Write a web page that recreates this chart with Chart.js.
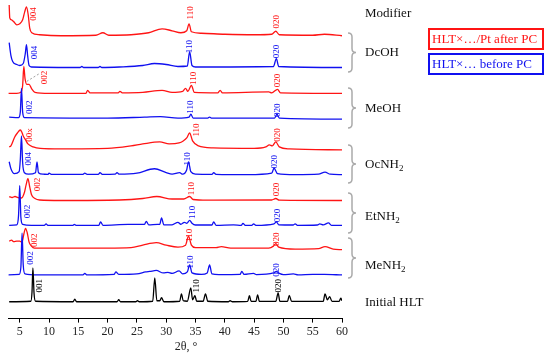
<!DOCTYPE html>
<html>
<head>
<meta charset="utf-8">
<script src="https://cdn.jsdelivr.net/npm/chart.js@4/dist/chart.umd.min.js"></script>
<style>
  html, body { margin: 0; padding: 0; background: #fff; }
  #wrap { width: 550px; height: 355px; position: relative; }
</style>
</head>
<body>
<div id="wrap"><canvas id="xrd"></canvas></div>
<script>
// XRD patterns, [2theta, intensity above own baseline]
const initialHLT = [[3.2,0],[6.9,0.5],[7.1,10],[7.25,34],[7.45,8],[7.7,0.5],[14.1,0],[14.4,2.5],[14.7,0],[21.6,0],[21.9,2],[22.2,0],[24.8,0],[25.1,1],[25.4,0],[27.7,0.5],[28.05,24],[28.4,1],[28.9,1],[29.2,4],[29.6,0],[32.3,0.5],[32.6,8],[32.9,1],[33.6,0.5],[34.2,14],[34.5,2],[34.9,6],[35.2,0.5],[36.3,0.5],[36.7,8],[37.1,0.5],[40.6,0],[40.9,1],[41.3,0],[43.9,0.3],[44.2,6],[44.5,0.3],[45.3,0.3],[45.6,7],[45.9,0.3],[48.7,0.3],[49.1,9],[49.4,0.3],[50.7,0.3],[51.0,6.5],[51.4,0.3],[56.8,0.3],[57.1,8],[57.5,2],[57.9,5],[58.3,0.3],[59.5,0.3],[59.8,3.5],[60,1]];
const menh2Before = [[3.1,0],[4.9,0.5],[5.2,8],[5.4,42],[5.6,10],[5.9,1],[8,0],[15.8,0],[16.1,1.5],[16.5,0],[21.1,0.5],[21.4,3],[21.9,0.5],[25,1],[26.5,3],[27.2,3.5],[28.3,4.5],[29.5,2],[30.3,2.5],[31,1.5],[32.2,4],[32.8,1],[33.6,3],[34.0,10],[34.4,2],[36,0.5],[37.0,2],[37.4,10],[37.8,1],[39,0.3],[42.6,0.5],[42.9,3.5],[43.3,0.5],[44.9,1.5],[45.4,0.3],[48.3,2],[48.8,3.5],[49.3,1.5],[50,0.3],[51.7,1],[52.5,0],[55,0.5],[57,0.5],[60,0]];
const menh2After = [[3.2,7],[3.6,8],[4.0,6.5],[4.5,7],[5.0,7],[5.4,6],[5.7,14],[6.0,20],[6.3,15],[6.6,6],[7.0,2],[7.5,0],[10,0],[20,0],[24,0.5],[26,3],[28.3,5.5],[30,3],[32,1],[33.3,3],[33.8,12],[34.3,3],[35,0.5],[38.5,0.5],[39.4,1.5],[41,0],[47.5,0],[48.3,2],[48.7,4.5],[49.2,1],[52,-1],[56,-0.5],[57.1,1.5],[58.5,-1],[60,-1.5]];
const etnh2Before = [[3.2,0],[4.5,0.5],[4.8,10],[5.0,40],[5.2,8],[5.5,1],[7,0],[9.2,0],[9.5,1.5],[9.8,0],[14.1,0],[14.3,1],[14.6,0],[18.5,0],[18.8,3.5],[19.2,0],[23.5,1],[26.3,1],[26.6,4],[27,0.5],[28.5,1],[28.9,1],[29.2,7.5],[29.6,0.5],[31,0.5],[32.0,3],[32.5,1],[33.1,3],[33.5,2],[34.0,5],[34.4,2],[35,0.3],[37.8,0.3],[38.1,3.5],[38.5,0],[41.5,0.5],[42.8,0],[43.1,2],[43.5,0],[44.6,0],[44.9,1.5],[45.3,0],[48.4,1.5],[48.8,3.5],[49.2,0.5],[51.7,0.3],[52,1.5],[52.4,0],[55.8,0.3],[56.2,1.5],[56.8,0.5],[57.7,2.5],[58.2,0],[60,0]];
const etnh2After = [[3.2,4],[3.7,3],[4.2,4],[4.7,3],[5.3,2.5],[5.8,8],[6.1,16],[6.4,22],[6.7,14],[7.0,6],[7.6,2],[8.4,0.5],[12,0],[22,0.5],[26,2],[28.4,4],[31,1.5],[33,1.5],[34.0,4],[34.6,1],[37,0.3],[48.0,0.5],[48.7,2],[49.3,0.3],[60,0]];
const ocnh2Before = [[3.2,13],[3.5,6],[4.1,1],[4.9,3],[5.1,15],[5.3,39],[5.5,12],[5.8,2],[6.5,0.5],[7.7,2],[7.95,13],[8.2,2],[9,0.5],[9.8,0.3],[10,1.5],[10.4,0.3],[15.8,0.3],[16.1,1.5],[16.5,0.3],[18.4,0.3],[18.7,2],[19.1,0.3],[21.3,0.5],[21.6,2],[22,0.5],[25,1.5],[28,6],[30,2],[31,0.5],[32.3,2],[32.8,0.5],[33.5,5],[33.8,13],[34.2,3],[35,0.5],[37.8,0.3],[38.1,2],[38.5,0.3],[44,0],[48.0,1.5],[48.4,6.5],[49,1],[52,0],[56,0.5],[57.1,2.5],[58,0.5],[60,0]];
const ocnh2After = [[3.2,2],[3.5,3],[4.15,12],[4.6,16],[5.1,19],[5.35,17],[5.6,13],[6.0,9],[6.4,5],[7.3,2],[8.5,0.5],[12,0],[20,0.5],[24,3],[26,5],[28.9,7],[30.5,5],[32.2,6],[32.9,8],[33.5,11],[34.0,16],[34.5,8],[35.5,3],[38,1],[45,0.5],[47.0,2],[47.6,4],[48.1,3],[48.7,7],[49.3,2],[51,0],[60,-1]];
const meohBefore = [[3.2,1],[4.8,0.5],[5.1,6],[5.3,30],[5.5,6],[5.8,0.5],[20,0],[26.3,1],[29,1.5],[32,0],[33.9,1],[34.2,4],[34.6,0],[37.1,0],[37.4,1],[37.7,0],[48.5,0],[48.9,4],[49.3,0],[60,-1]];
const meohAfter = [[3.1,0],[4.5,0],[5.2,1],[5.5,8],[5.7,27],[5.9,15],[6.2,9],[6.6,9],[7.0,5],[7.6,1],[10,0],[16.3,0],[16.6,3],[17,0.5],[21.8,0.5],[22.1,2],[22.5,0.5],[26,1],[29.3,3],[31,1],[32.8,2],[33.3,5],[33.7,2],[34.3,8],[34.8,1],[38.8,0.5],[39.2,3],[39.6,0.5],[47.5,1.5],[48,0.5],[49,4],[49.5,0.5],[60,0]];
const dcohBefore = [[3.2,25],[3.5,12],[3.8,6],[4.5,3],[5.0,2],[5.6,4],[5.95,14],[6.15,23],[6.35,12],[6.6,2],[7,0.5],[15.3,0],[15.6,1],[15.9,0],[18.4,0],[18.7,1],[19,0],[22,0.5],[26,2],[28,4],[30,3],[32,1],[33.6,1.5],[34,16],[34.4,2],[35,0.5],[48.3,1],[48.8,9],[49.2,1],[60,0]];
const dcohAfter = [[3.2,31],[3.3,18],[3.6,16],[4.0,14],[4.5,11],[5.0,12],[5.5,16],[5.85,24],[6.15,29],[6.45,21],[6.7,8],[7.05,3],[8.4,1],[12,0],[18,0.5],[19.2,3],[20.2,0.5],[24,1],[27,3],[29.3,7],[31,5],[32.5,3],[33.5,5],[33.9,12],[34.3,4],[36,2.5],[40,1.5],[45,1],[48,1.5],[48.7,4.5],[49.3,1],[55,0.5],[57,1.5],[60,0]];

const patterns = [initialHLT, menh2Before, menh2After, etnh2Before, etnh2After, ocnh2Before, ocnh2After, meohBefore, meohAfter, dcohBefore, dcohAfter];
// vertical stacking offset of each pattern
const offsets = [17, 44, 71, 94, 119, 145, 171, 202, 227, 253, 285];
const xTicks = [5, 10, 15, 20, 25, 30, 35, 40, 45, 50, 55, 60];

// [pattern index, text, 2theta, level]
const peakLabels = [
  [0,'001',8.41,33],[0,'110',35.2,33],[0,'020',49.15,33],
  [1,'002',6.8,61],[1,'110',34.2,57],[1,'020',48.9,49],
  [2,'002',7.56,79],[2,'110',33.95,84],[2,'020',48.9,80],
  [3,'002',6.36,108],[3,'110',34.5,107],[3,'020',49.1,104],
  [4,'002',8.07,135],[4,'110',34.3,131],[4,'020',48.9,130],
  [5,'004',6.54,161],[5,'110',33.7,161],[5,'020',48.5,158],
  [6,'00x',6.7,185],[6,'110',35.2,190],[6,'020',49.0,185],
  [7,'002',6.7,213],[7,'110',34.2,213],[7,'020',49.1,210],
  [8,'002',9.27,243],[8,'110',34.7,242],[8,'020',49.0,240],
  [9,'004',7.47,268],[9,'110',34.03,274],[9,'020',48.8,269],
  [10,'004',7.39,307],[10,'110',34.1,308],[10,'020',48.8,299]
];

const RED = '#ff1414', BLUE = '#1010f0', BLACK = '#000';
const colors = [BLACK, BLUE, RED, BLUE, RED, BLUE, RED, BLUE, RED, BLUE, RED];
const SERIF = '"Liberation Serif", "Times New Roman", serif';

const datasets = patterns.map((p, i) => ({
  data: p.map(([t, v]) => ({ x: t, y: v + offsets[i] })),
  borderColor: colors[i],
  borderWidth: 1.3,
  pointRadius: 0,
  fill: false,
  cubicInterpolationMode: 'monotone'
}));

const annotate = {
  id: 'annotate',
  afterDatasetsDraw(chart) {
    const { ctx, scales: { x, y } } = chart;
    ctx.save();

    // Miller index labels
    ctx.font = '9px ' + SERIF;
    ctx.textAlign = 'center';
    ctx.textBaseline = 'middle';
    peakLabels.forEach(([i, txt, t, v]) => {
      ctx.save();
      ctx.translate(x.getPixelForValue(t), y.getPixelForValue(v));
      ctx.rotate(-Math.PI / 2);
      ctx.fillStyle = colors[i];
      ctx.fillText(txt, 0, 0);
      ctx.restore();
    });

    // dashed pointer for MeOH 002
    ctx.strokeStyle = '#888';
    ctx.lineWidth = 0.8;
    ctx.setLineDash([2, 2]);
    ctx.beginPath();
    ctx.moveTo(x.getPixelForValue(6.2), y.getPixelForValue(239));
    ctx.lineTo(x.getPixelForValue(8.4), y.getPixelForValue(247));
    ctx.stroke();
    ctx.setLineDash([]);

    // braces + modifier names
    const groups = [
      ['DcOH', '', 53, 33, 72],
      ['MeOH', '', 109, 88, 128],
      ['OcNH', '2', 165, 145, 183],
      ['EtNH', '2', 217, 193, 233],
      ['MeNH', '2', 266, 238, 278]
    ];
    ctx.strokeStyle = '#aaa';
    ctx.lineWidth = 1.5;
    groups.forEach(([, , , y1, y2]) => {
      const m = (y1 + y2) / 2, l = 348, c = 352, r = 356;
      ctx.beginPath();
      ctx.moveTo(l, y1);
      ctx.quadraticCurveTo(c, y1, c, y1 + 4);
      ctx.lineTo(c, m - 4);
      ctx.quadraticCurveTo(c, m, r, m);
      ctx.quadraticCurveTo(c, m, c, m + 4);
      ctx.lineTo(c, y2 - 4);
      ctx.quadraticCurveTo(c, y2, l, y2);
      ctx.stroke();
    });

    ctx.fillStyle = '#111';
    ctx.textAlign = 'left';
    const name = (main, sub, yy) => {
      ctx.font = '13px ' + SERIF;
      ctx.fillText(main, 365, yy);
      if (sub) {
        const w = ctx.measureText(main).width;
        ctx.font = '9px ' + SERIF;
        ctx.fillText(sub, 365 + w, yy + 4);
      }
    };
    name('Modifier', '', 14);
    groups.forEach(([m, s, yy]) => name(m, s, yy));
    name('Initial HLT', '', 303);

    // legend boxes
    ctx.lineWidth = 2;
    ctx.font = '13px ' + SERIF;
    ctx.strokeStyle = RED; ctx.fillStyle = RED;
    ctx.strokeRect(429, 29, 114, 20);
    ctx.fillText('HLT×…/Pt after PC', 432, 39.5);
    ctx.strokeStyle = BLUE; ctx.fillStyle = BLUE;
    ctx.strokeRect(429, 54, 114, 20);
    ctx.fillText('HLT×… before PC', 432, 64.5);

    // axis title
    ctx.fillStyle = '#222';
    ctx.textAlign = 'center';
    ctx.font = '12px ' + SERIF;
    ctx.fillText('2θ, °', 186, 347);

    ctx.restore();
  }
};

new Chart(document.getElementById('xrd'), {
  type: 'line',
  data: { datasets },
  options: {
    responsive: true,
    maintainAspectRatio: false,
    animation: false,
    devicePixelRatio: 1,
    layout: { padding: { left: 8, right: 208, top: 0, bottom: 14 } },
    plugins: { legend: { display: false }, tooltip: { enabled: false } },
    scales: {
      x: {
        type: 'linear',
        min: 3,
        max: 60,
        afterBuildTicks: (axis) => { axis.ticks = xTicks.map(v => ({ value: v })); },
        grid: { drawOnChartArea: false, drawTicks: true, tickLength: 4, color: '#000' },
        border: { display: true, color: '#000', width: 1 },
        ticks: { padding: 2, color: '#222', font: { family: SERIF, size: 12 }, maxRotation: 0 }
      },
      y: { display: false, min: 0, max: 321 }
    }
  },
  plugins: [annotate]
});
</script>
</body>
</html>
